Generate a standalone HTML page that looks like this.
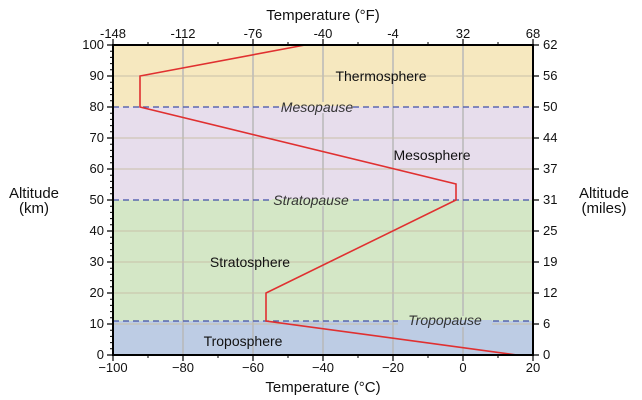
<!DOCTYPE html>
<html><head><style>body{margin:0;background:#fff}svg{display:block}text{font-family:"Liberation Sans",sans-serif}</style></head><body>
<svg width="642" height="400" xmlns="http://www.w3.org/2000/svg">
<rect x="113" y="45" width="420" height="62" fill="#f6e8bf"/>
<rect x="113" y="107" width="420" height="93" fill="#e7ddec"/>
<rect x="113" y="200" width="420" height="121" fill="#d4e7c6"/>
<rect x="113" y="321" width="420" height="34" fill="#bdcce4"/>
<g stroke="#b8b8b8" stroke-width="1.5">
<line x1="183" y1="45" x2="183" y2="355"/><line x1="253" y1="45" x2="253" y2="355"/><line x1="323" y1="45" x2="323" y2="355"/><line x1="393" y1="45" x2="393" y2="355"/><line x1="463" y1="45" x2="463" y2="355"/>
</g>
<g stroke="#c8c0a8" stroke-width="1">
<line x1="113" y1="76" x2="533" y2="76"/><line x1="113" y1="138" x2="533" y2="138"/><line x1="113" y1="169" x2="533" y2="169"/><line x1="113" y1="231" x2="533" y2="231"/><line x1="113" y1="262" x2="533" y2="262"/><line x1="113" y1="293" x2="533" y2="293"/><line x1="113" y1="324" x2="533" y2="324"/>
</g>
<g stroke="#4050a8" stroke-width="1.2" stroke-dasharray="6,4">
<line x1="113" y1="107" x2="533" y2="107"/><line x1="113" y1="200" x2="533" y2="200"/><line x1="113" y1="321" x2="533" y2="321"/>
</g>
<rect x="282" y="102" width="70" height="5" fill="#f6e8bf"/>
<rect x="282" y="106" width="70" height="7" fill="#e7ddec"/>
<rect x="272" y="195" width="78" height="5" fill="#e7ddec"/>
<rect x="272" y="199" width="78" height="7" fill="#d4e7c6"/>
<rect x="398" y="316" width="94" height="5" fill="#d4e7c6"/>
<rect x="398" y="320" width="94" height="7" fill="#bdcce4"/>
<g font-size="14" font-style="italic" fill="#333" text-anchor="middle">
<text x="317" y="112">Mesopause</text>
<text x="311" y="205">Stratopause</text>
<text x="445" y="325">Tropopause</text>
</g>
<g font-size="14" fill="#111" text-anchor="middle">
<text x="381" y="81">Thermosphere</text><text x="432" y="160">Mesosphere</text><text x="250" y="267">Stratosphere</text><text x="243" y="346">Troposphere</text>
</g>
<polyline fill="none" stroke="#e03030" stroke-width="1.6" points="517,355 266,321 266,293 456,200 456,184 140,107 140,76 305,45"/>
<rect x="113" y="45" width="420" height="310" fill="none" stroke="#000" stroke-width="2"/>
<g stroke="#000" stroke-width="1.2">
<path d="M107 45h6M107 76h6M107 107h6M107 138h6M107 169h6M107 200h6M107 231h6M107 262h6M107 293h6M107 324h6M107 355h6"/>
<path d="M533 45h6M533 76h6M533 107h6M533 138h6M533 169h6M533 200h6M533 231h6M533 262h6M533 293h6M533 324h6M533 355h6"/>
<path d="M113 355v6M183 355v6M253 355v6M323 355v6M393 355v6M463 355v6M533 355v6"/>
<path d="M113 45v-6M183 45v-6M253 45v-6M323 45v-6M393 45v-6M463 45v-6M533 45v-6"/>
</g>
<g stroke="#000" stroke-width="1">
<path d="M110 51.2h3M110 57.4h3M110 63.6h3M110 69.8h3M110 82.2h3M110 88.4h3M110 94.6h3M110 100.8h3M110 113.2h3M110 119.4h3M110 125.6h3M110 131.8h3M110 144.2h3M110 150.4h3M110 156.6h3M110 162.8h3M110 175.2h3M110 181.4h3M110 187.6h3M110 193.8h3M110 206.2h3M110 212.4h3M110 218.6h3M110 224.8h3M110 237.2h3M110 243.4h3M110 249.6h3M110 255.8h3M110 268.2h3M110 274.4h3M110 280.6h3M110 286.8h3M110 299.2h3M110 305.4h3M110 311.6h3M110 317.8h3M110 330.2h3M110 336.4h3M110 342.6h3M110 348.8h3"/>
<path d="M148 45v-3M218 45v-3M288 45v-3M358 45v-3M428 45v-3M498 45v-3M148 355v3M218 355v3M288 355v3M358 355v3M428 355v3M498 355v3"/>
</g>
<g font-size="13" fill="#111" text-anchor="end">
<text x="104" y="49">100</text><text x="104" y="80">90</text><text x="104" y="111">80</text><text x="104" y="142">70</text><text x="104" y="173">60</text><text x="104" y="204">50</text><text x="104" y="235">40</text><text x="104" y="266">30</text><text x="104" y="297">20</text><text x="104" y="328">10</text><text x="104" y="359">0</text>
</g>
<g font-size="13" fill="#111">
<text x="543" y="49">62</text><text x="543" y="80">56</text><text x="543" y="111">50</text><text x="543" y="142">44</text><text x="543" y="173">37</text><text x="543" y="204">31</text><text x="543" y="235">25</text><text x="543" y="266">19</text><text x="543" y="297">12</text><text x="543" y="328">6</text><text x="543" y="359">0</text>
</g>
<g font-size="13" fill="#111" text-anchor="middle">
<text x="113" y="372">−100</text><text x="183" y="372">−80</text><text x="253" y="372">−60</text><text x="323" y="372">−40</text><text x="393" y="372">−20</text><text x="463" y="372">0</text><text x="533" y="372">20</text>
<text x="113" y="38">-148</text><text x="183" y="38">-112</text><text x="253" y="38">-76</text><text x="323" y="38">-40</text><text x="393" y="38">-4</text><text x="463" y="38">32</text><text x="533" y="38">68</text>
</g>
<g font-size="15" fill="#111" text-anchor="middle">
<text x="323" y="20">Temperature (°F)</text><text x="323" y="392">Temperature (°C)</text>
<text x="34" y="198">Altitude</text><text x="34" y="213">(km)</text>
<text x="604" y="198">Altitude</text><text x="604" y="213">(miles)</text>
</g>
</svg>
</body></html>
